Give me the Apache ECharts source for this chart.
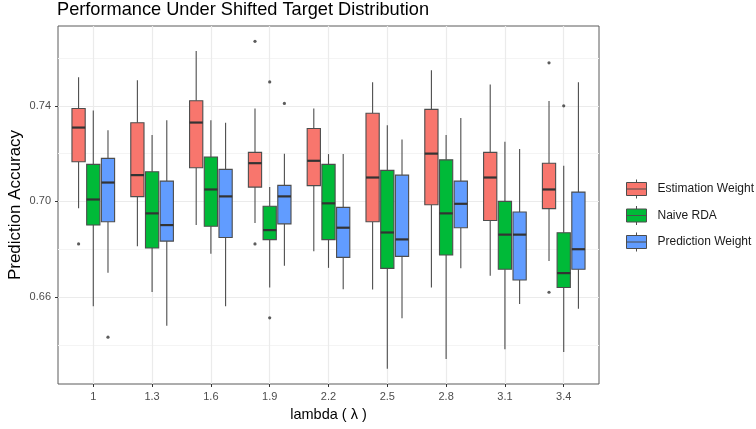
<!DOCTYPE html>
<html>
<head>
<meta charset="utf-8">
<script src="https://cdn.jsdelivr.net/npm/echarts@6/dist/echarts.min.js"></script>
<style>
  html, body { margin: 0; padding: 0; background: #ffffff; }
  #chart { width: 756px; height: 429px; }
</style>
</head>
<body>
<div id="chart"></div>
<script>
// ---- data ----
const categories = ['1', '1.3', '1.6', '1.9', '2.2', '2.5', '2.8', '3.1', '3.4'];
const groupNames = ['Estimation Weight', 'Naive RDA', 'Prediction Weight'];
// [lower whisker, Q1, median, Q3, upper whisker]
const estimationStats = [
  [0.6971, 0.7166, 0.7309, 0.7389, 0.7520],
  [0.6812, 0.7020, 0.7110, 0.7329, 0.7507],
  [0.6901, 0.7141, 0.7330, 0.7421, 0.7629],
  [0.6910, 0.7060, 0.7160, 0.7205, 0.7389],
  [0.6791, 0.7066, 0.7170, 0.7305, 0.7389],
  [0.6631, 0.6915, 0.7100, 0.7369, 0.7499],
  [0.6640, 0.6986, 0.7200, 0.7385, 0.7549],
  [0.6689, 0.6920, 0.7100, 0.7205, 0.7489],
  [0.6751, 0.6970, 0.7050, 0.7160, 0.7420]
];
const naiveStats = [
  [0.6561, 0.6901, 0.7008, 0.7155, 0.7380],
  [0.6621, 0.6805, 0.6950, 0.7124, 0.7278],
  [0.6781, 0.6896, 0.7050, 0.7186, 0.7340],
  [0.6640, 0.6840, 0.6880, 0.6980, 0.7060],
  [0.6722, 0.6840, 0.6992, 0.7155, 0.7198],
  [0.6300, 0.6720, 0.6870, 0.7130, 0.7319],
  [0.6341, 0.6776, 0.6950, 0.7174, 0.7278],
  [0.6381, 0.6716, 0.6861, 0.7000, 0.7250],
  [0.6370, 0.6640, 0.6700, 0.6869, 0.7149]
];
const predictionStats = [
  [0.6702, 0.6915, 0.7079, 0.7180, 0.7298],
  [0.6480, 0.6834, 0.6901, 0.7085, 0.7340],
  [0.6561, 0.6849, 0.7021, 0.7134, 0.7329],
  [0.6731, 0.6906, 0.7021, 0.7067, 0.7199],
  [0.6632, 0.6766, 0.6890, 0.6975, 0.7198],
  [0.6511, 0.6770, 0.6841, 0.7110, 0.7259],
  [0.6720, 0.6890, 0.6990, 0.7085, 0.7349],
  [0.6571, 0.6671, 0.6861, 0.6956, 0.7219],
  [0.6551, 0.6716, 0.6800, 0.7039, 0.7499]
];
// outliers: [category, value]
const estimationOutliers = [['1', 0.6822], ['1.9', 0.7670], ['1.9', 0.6822], ['3.4', 0.7580], ['3.4', 0.6620]];
const naiveOutliers = [['1.9', 0.7500], ['1.9', 0.6513], ['3.4', 0.7400]];
const predictionOutliers = [['1', 0.6432], ['1.9', 0.7410]];
const yTicks = [0.66, 0.70, 0.74];
const yMinorTicks = [0.64, 0.68, 0.72, 0.76];

// ---- styling / layout constants ----
const colors = ['#F8766D', '#00BA38', '#619CFF'];
const dodge = [-0.25, 0, 0.25];
const boxWidth = 0.225;
const Y_MIN = 0.6236, Y_MAX = 0.7734;
const X_MIN = 0.4, X_MAX = categories.length + 0.6;
const lineColor = '#4d4d4d';
const FONT = 'Liberation Sans, Arial, sans-serif';

function makeRender(gi) {
  return function (params, api) {
    const x = api.value(0) + dodge[gi];
    const pLo = api.coord([x, api.value(1)]);
    const pQ1 = api.coord([x, api.value(2)]);
    const pMed = api.coord([x, api.value(3)]);
    const pQ3 = api.coord([x, api.value(4)]);
    const pHi = api.coord([x, api.value(5)]);
    const w = api.size([boxWidth, 0])[0];
    const cx = pMed[0];
    const left = cx - w / 2;
    return {
      type: 'group',
      children: [
        { type: 'line', shape: { x1: cx, y1: pHi[1], x2: cx, y2: pQ3[1] }, style: { stroke: lineColor, lineWidth: 1.1 } },
        { type: 'line', shape: { x1: cx, y1: pQ1[1], x2: cx, y2: pLo[1] }, style: { stroke: lineColor, lineWidth: 1.1 } },
        { type: 'rect', shape: { x: left, y: pQ3[1], width: w, height: pQ1[1] - pQ3[1] }, style: { fill: colors[gi], stroke: lineColor, lineWidth: 1.1 } },
        { type: 'line', shape: { x1: left, y1: pMed[1], x2: left + w, y2: pMed[1] }, style: { stroke: '#333333', lineWidth: 2.2 } }
      ]
    };
  };
}

const statsList = [estimationStats, naiveStats, predictionStats];
const outlierList = [estimationOutliers, naiveOutliers, predictionOutliers];

const series = [];
statsList.forEach(function (stats, gi) {
  series.push({
    name: groupNames[gi],
    type: 'custom',
    renderItem: makeRender(gi),
    itemStyle: { color: colors[gi] },
    encode: { x: 0, y: [1, 2, 3, 4, 5] },
    data: stats.map(function (s, i) { return [i + 1].concat(s); }),
    z: 3
  });
});
outlierList.forEach(function (outs, gi) {
  series.push({
    name: groupNames[gi] + ' outliers',
    type: 'scatter',
    symbol: 'circle',
    symbolSize: 3.2,
    itemStyle: { color: '#333333' },
    data: outs.map(function (o) { return [categories.indexOf(o[0]) + 1 + dodge[gi], o[1]]; }),
    z: 4
  });
});

const legendIcon = 'path://M0,3H20V16H0Z M0,9.5H20 M10,0V3 M10,16V19';
const xPositions = categories.map(function (c, i) { return i + 1; });

const option = {
  animation: false,
  backgroundColor: '#ffffff',
  textStyle: { fontFamily: FONT },
  title: {
    text: 'Performance Under Shifted Target Distribution',
    left: 57, top: 1, padding: 0,
    textStyle: { fontSize: 18.2, fontWeight: 'normal', color: '#000000', fontFamily: FONT }
  },
  legend: {
    orient: 'vertical',
    left: 621, top: 174,
    itemWidth: 20, itemHeight: 19, itemGap: 6.5,
    textStyle: { fontSize: 12, color: '#1a1a1a', fontFamily: FONT, padding: [0, 0, 0, 6] },
    data: groupNames.map(function (n, gi) {
      return { name: n, icon: legendIcon, itemStyle: { color: colors[gi], borderColor: lineColor, borderWidth: 1 } };
    })
  },
  grid: {
    left: 58, right: 157, top: 26, bottom: 45,
    outerBoundsMode: 'none',
    containLabel: false,
    show: true, borderColor: '#5a5a5a', borderWidth: 1, backgroundColor: '#ffffff'
  },
  xAxis: {
    type: 'value',
    min: X_MIN, max: X_MAX,
    name: 'lambda ( λ )',
    nameLocation: 'middle', nameGap: 23,
    nameMoveOverlap: false,
    nameTextStyle: { fontSize: 14.5, color: '#000000', fontFamily: FONT },
    axisLine: { show: false },
    axisTick: { show: true, length: 3, customValues: xPositions, lineStyle: { color: '#333333', width: 1 } },
    axisLabel: {
      customValues: xPositions, margin: 7, fontSize: 11, color: '#4d4d4d',
      formatter: function (v) { return categories[Math.round(v) - 1]; }
    },
    splitLine: { show: true, lineStyle: { color: '#ebebeb', width: 1.2 } }
  },
  yAxis: [
    {
      type: 'value',
      min: Y_MIN, max: Y_MAX,
      name: 'Prediction Accuracy',
      nameLocation: 'middle', nameGap: 34,
      nameMoveOverlap: false,
      nameTextStyle: { fontSize: 17, color: '#000000', fontFamily: FONT },
      axisLine: { show: false },
      axisTick: { show: true, length: 3, customValues: yTicks, lineStyle: { color: '#333333', width: 1 } },
      axisLabel: {
        customValues: yTicks, margin: 7, fontSize: 11, color: '#4d4d4d',
        formatter: function (v) { return v.toFixed(2); }
      },
      splitLine: { show: true, lineStyle: { color: '#ebebeb', width: 1.2 } }
    },
    {
      type: 'value',
      min: Y_MIN, max: Y_MAX,
      position: 'right',
      axisLine: { show: false },
      axisTick: { show: false, customValues: yMinorTicks },
      axisLabel: { show: false, customValues: yMinorTicks },
      splitLine: { show: true, lineStyle: { color: '#f4f4f4', width: 1 } }
    }
  ],
  series: series
};

const chart = echarts.init(document.getElementById('chart'), null, { renderer: 'canvas' });
chart.setOption(option);
</script>
</body>
</html>
